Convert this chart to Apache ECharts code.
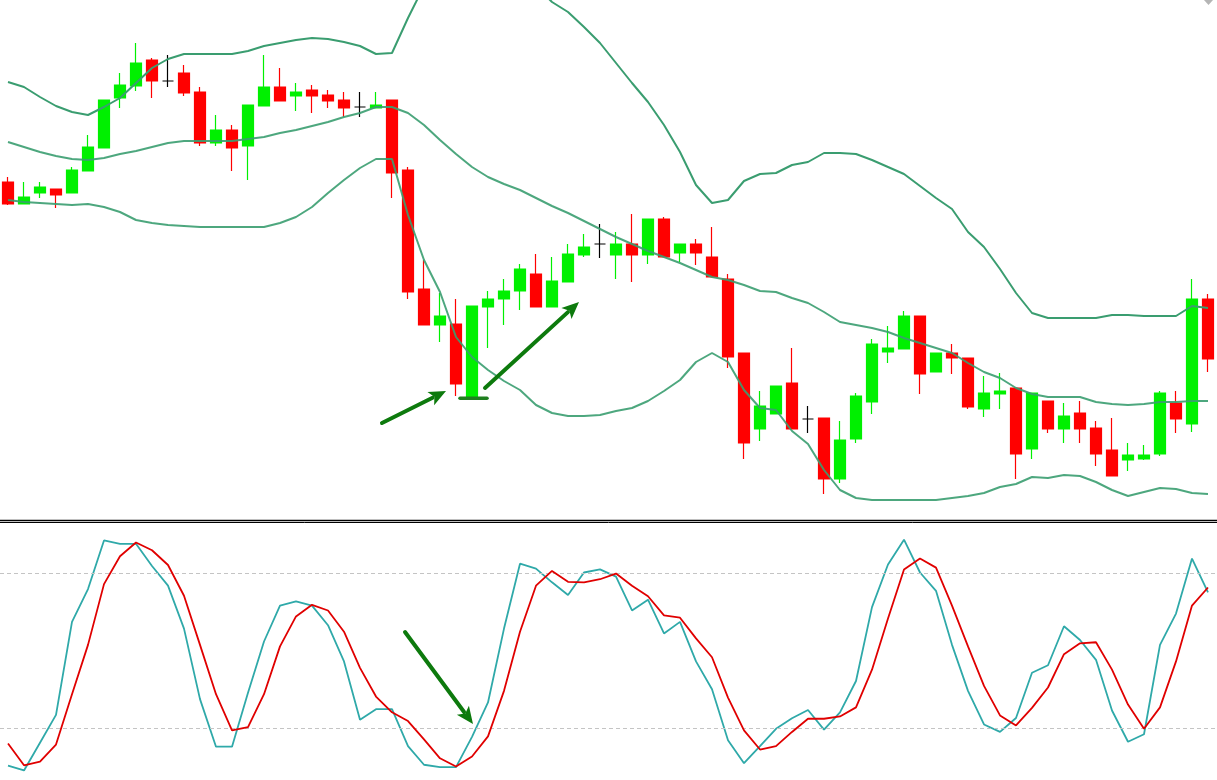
<!DOCTYPE html>
<html>
<head>
<meta charset="utf-8">
<script src="https://cdn.jsdelivr.net/npm/echarts@6/dist/echarts.min.js"></script>
<style>
  html, body { margin: 0; padding: 0; background: #ffffff; }
  #chart { width: 1217px; height: 780px; }
</style>
</head>
<body>
<div id="chart"></div>
<script>
// ---- price candles: [open, close, low, high] ----
const candles = [
  [1.2818, 1.2796, 1.2795, 1.2823],
  [1.2796, 1.2803, 1.2796, 1.2818],
  [1.2807, 1.2813, 1.2802, 1.2818],
  [1.2811, 1.2805, 1.2792, 1.2811],
  [1.2807, 1.2830, 1.2807, 1.2833],
  [1.2829, 1.2853, 1.2829, 1.2865],
  [1.2852, 1.2900, 1.2852, 1.2900],
  [1.2902, 1.2915, 1.2892, 1.2927],
  [1.2914, 1.2937, 1.2909, 1.2957],
  [1.2940, 1.2919, 1.2902, 1.2942],
  [1.2919, 1.2919, 1.2913, 1.2945],
  [1.2927, 1.2907, 1.2904, 1.2935],
  [1.2908, 1.2857, 1.2854, 1.2913],
  [1.2857, 1.2870, 1.2854, 1.2885],
  [1.2870, 1.2852, 1.2829, 1.2875],
  [1.2854, 1.2895, 1.2820, 1.2895],
  [1.2894, 1.2913, 1.2894, 1.2945],
  [1.2913, 1.2899, 1.2899, 1.2932],
  [1.2904, 1.2908, 1.2889, 1.2917],
  [1.2910, 1.2904, 1.2887, 1.2915],
  [1.2905, 1.2899, 1.2892, 1.2910],
  [1.2900, 1.2892, 1.2883, 1.2908],
  [1.2893, 1.2893, 1.2883, 1.2908],
  [1.2892, 1.2895, 1.2892, 1.2908],
  [1.2900, 1.2827, 1.2802, 1.2900],
  [1.2830, 1.2708, 1.2701, 1.2833],
  [1.2711, 1.2675, 1.2675, 1.2740],
  [1.2675, 1.2684, 1.2658, 1.2707],
  [1.2676, 1.2616, 1.2604, 1.2701],
  [1.2603, 1.2694, 1.2603, 1.2694],
  [1.2693, 1.2701, 1.2652, 1.2709],
  [1.2701, 1.2709, 1.2675, 1.2721],
  [1.2709, 1.2731, 1.2690, 1.2736],
  [1.2726, 1.2693, 1.2693, 1.2746],
  [1.2693, 1.2719, 1.2693, 1.2743],
  [1.2718, 1.2746, 1.2718, 1.2756],
  [1.2745, 1.2753, 1.2743, 1.2766],
  [1.2756, 1.2756, 1.2742, 1.2776],
  [1.2745, 1.2756, 1.2721, 1.2768],
  [1.2756, 1.2745, 1.2718, 1.2786],
  [1.2745, 1.2781, 1.2736, 1.2781],
  [1.2781, 1.2743, 1.2743, 1.2783],
  [1.2747, 1.2756, 1.2738, 1.2756],
  [1.2756, 1.2747, 1.2735, 1.2761],
  [1.2743, 1.2723, 1.2723, 1.2773],
  [1.2721, 1.2643, 1.2632, 1.2726],
  [1.2647, 1.2557, 1.2541, 1.2647],
  [1.2571, 1.2594, 1.2559, 1.2609],
  [1.2586, 1.2614, 1.2586, 1.2614],
  [1.2617, 1.2571, 1.2571, 1.2652],
  [1.2581, 1.2581, 1.2567, 1.2594],
  [1.2582, 1.2521, 1.2506, 1.2582],
  [1.2521, 1.2560, 1.2517, 1.2579],
  [1.2561, 1.2604, 1.2557, 1.2607],
  [1.2598, 1.2656, 1.2586, 1.2661],
  [1.2648, 1.2652, 1.2637, 1.2674],
  [1.2651, 1.2684, 1.2651, 1.2689],
  [1.2684, 1.2626, 1.2606, 1.2684],
  [1.2628, 1.2647, 1.2628, 1.2647],
  [1.2647, 1.2642, 1.2626, 1.2656],
  [1.2642, 1.2593, 1.2591, 1.2642],
  [1.2591, 1.2607, 1.2583, 1.2624],
  [1.2606, 1.2609, 1.2591, 1.2627],
  [1.2612, 1.2546, 1.2521, 1.2612],
  [1.2551, 1.2607, 1.2541, 1.2607],
  [1.2599, 1.2571, 1.2567, 1.2599],
  [1.2571, 1.2584, 1.2557, 1.2597],
  [1.2587, 1.2571, 1.2557, 1.2599],
  [1.2572, 1.2546, 1.2534, 1.2579],
  [1.2550, 1.2524, 1.2524, 1.2582],
  [1.2540, 1.2545, 1.2529, 1.2557],
  [1.2541, 1.2545, 1.2540, 1.2555],
  [1.2546, 1.2607, 1.2544, 1.2609],
  [1.2597, 1.2581, 1.2567, 1.2609],
  [1.2576, 1.2701, 1.2568, 1.2721],
  [1.2701, 1.2641, 1.2628, 1.2706]
];

// ---- Bollinger bands ----
const bbUpper = [
  1.2918, 1.2913, 1.2903, 1.2894, 1.2888, 1.2885, 1.2893, 1.2902, 1.2917, 1.2932,
  1.2941, 1.2946, 1.2946, 1.2946, 1.2946, 1.2949, 1.2954, 1.2957, 1.2960, 1.2962,
  1.2961, 1.2958, 1.2954, 1.2946, 1.2947, 1.2982, 1.3014, 1.3040, 1.3055, 1.3060,
  1.3057, 1.3047, 1.3032, 1.3014, 1.2998, 1.2988, 1.2973, 1.2957, 1.2937, 1.2917,
  1.2898, 1.2875, 1.2848, 1.2815, 1.2797, 1.2800, 1.2819, 1.2826, 1.2827, 1.2835,
  1.2838, 1.2847, 1.2847, 1.2846, 1.2840, 1.2833, 1.2826, 1.2814, 1.2802, 1.2791,
  1.2768, 1.2753, 1.2731, 1.2707, 1.2687, 1.2682, 1.2682, 1.2682, 1.2682, 1.2685,
  1.2685, 1.2684, 1.2684, 1.2684, 1.2694, 1.2692
];
const bbMiddle = [
  1.2858, 1.2853, 1.2848, 1.2844, 1.2841, 1.2840, 1.2842, 1.2846, 1.2849, 1.2853,
  1.2857, 1.2859, 1.2859, 1.2859, 1.2859, 1.2861, 1.2863, 1.2867, 1.2870, 1.2874,
  1.2878, 1.2883, 1.2887, 1.2893, 1.2893, 1.2887, 1.2875, 1.2860, 1.2846, 1.2833,
  1.2823, 1.2816, 1.2810, 1.2802, 1.2794, 1.2787, 1.2779, 1.2771, 1.2763, 1.2756,
  1.2749, 1.2743, 1.2737, 1.2730, 1.2723, 1.2720, 1.2715, 1.2709, 1.2708, 1.2702,
  1.2697, 1.2688, 1.2678, 1.2675, 1.2672, 1.2668, 1.2662, 1.2657, 1.2652, 1.2647,
  1.2637, 1.2628, 1.2622, 1.2612, 1.2606, 1.2603, 1.2603, 1.2603, 1.2598, 1.2596,
  1.2595, 1.2596, 1.2598, 1.2598, 1.2599, 1.2599
];
const bbLower = [
  1.2800, 1.2798, 1.2797, 1.2796, 1.2795, 1.2796, 1.2793, 1.2788, 1.2780, 1.2777,
  1.2775, 1.2774, 1.2773, 1.2773, 1.2773, 1.2773, 1.2773, 1.2777, 1.2783, 1.2793,
  1.2807, 1.2820, 1.2832, 1.2841, 1.2841, 1.2785, 1.2740, 1.2708, 1.2663, 1.2643,
  1.2630, 1.2619, 1.2610, 1.2595, 1.2587, 1.2584, 1.2584, 1.2585, 1.2589, 1.2592,
  1.2599, 1.2609, 1.2620, 1.2638, 1.2647, 1.2638, 1.2610, 1.2592, 1.2590, 1.2569,
  1.2556, 1.2530, 1.2510, 1.2502, 1.2500, 1.2500, 1.2500, 1.2500, 1.2500, 1.2502,
  1.2504, 1.2507, 1.2513, 1.2516, 1.2523, 1.2522, 1.2525, 1.2524, 1.2518, 1.2510,
  1.2504, 1.2508, 1.2512, 1.2511, 1.2507, 1.2506
];

// ---- Stochastic oscillator ----
const stochK = [
  5.6, 3.7, 14.4, 25.2, 61.2, 73.9, 92.7, 91.4, 91.4, 82.8,
  75.2, 58.6, 31.3, 12.9, 12.9, 33.8, 53.6, 67.5, 69.1, 67.5,
  59.9, 45.9, 23.3, 27.4, 27.4, 13.1, 5.9, 5.0, 5.0, 16.7,
  30.0, 58.6, 83.7, 81.8, 76.5, 71.6, 80.3, 81.5, 78.7, 65.6,
  69.8, 56.7, 61.2, 45.9, 35.1, 15.4, 6.5, 13.1, 19.8, 23.9,
  27.1, 19.5, 26.2, 38.3, 66.9, 83.4, 93.0, 80.3, 73.2, 52.3,
  34.5, 21.5, 18.6, 24.0, 41.5, 44.4, 59.5, 54.2, 46.5, 26.9,
  14.8, 17.7, 52.3, 64.4, 85.7, 72.6
];
const stochD = [
  14.1, 5.7, 7.1, 13.7, 33.2, 52.3, 75.8, 86.6, 91.9, 88.9,
  83.2, 71.3, 52.3, 33.2, 19.2, 20.5, 33.2, 51.7, 63.3, 67.8,
  65.6, 57.4, 43.4, 32.3, 26.2, 22.8, 15.7, 8.4, 5.2, 9.1,
  16.9, 34.5, 57.4, 75.2, 80.9, 76.7, 76.5, 77.7, 79.9, 75.2,
  71.1, 63.7, 62.8, 54.8, 47.5, 31.9, 19.2, 11.8, 13.1, 18.6,
  23.7, 23.7, 24.6, 28.1, 42.7, 62.5, 81.5, 85.7, 82.2, 67.5,
  51.7, 36.4, 25.0, 21.1, 27.9, 35.8, 48.7, 52.9, 53.3, 42.7,
  29.2, 19.8, 28.1, 45.9, 67.5, 74.5
];
const stochLevels = [20, 80];
const bars = candles.map((_, i) => String(i + 1));

const BAND = '#3a9d70';
const GREEN = '#00f000';
const RED = '#ff0000';
const ARROW = '#0d7a0d';

function arrow(x1, y1, x2, y2) {
  const dx = x2 - x1, dy = y2 - y1;
  const len = Math.sqrt(dx * dx + dy * dy);
  const ux = dx / len, uy = dy / len;
  const hl = 17, hw = 7.5;
  const bx = x2 - ux * hl, by = y2 - uy * hl;
  return [
    { type: 'line', z: 100,
      shape: { x1: x1, y1: y1, x2: bx + ux * 2, y2: by + uy * 2 },
      style: { stroke: ARROW, lineWidth: 4, lineCap: 'round' } },
    { type: 'polygon', z: 100,
      shape: { points: [[x2, y2], [bx - uy * hw, by + ux * hw], [bx + ux * 4, by + uy * 4], [bx + uy * hw, by - ux * hw]] },
      style: { fill: ARROW } }
  ];
}

const chart = echarts.init(document.getElementById('chart'), null, { renderer: 'canvas' });
chart.setOption({
  animation: false,
  backgroundColor: '#ffffff',
  grid: [
    { left: 0, right: 1, top: 0, height: 520 },
    { left: 0, right: 1, top: 521.6, height: 261.8 }
  ],
  xAxis: [
    { type: 'category', data: bars, gridIndex: 0, boundaryGap: true, show: false },
    { type: 'category', data: bars, gridIndex: 1, boundaryGap: true, show: false }
  ],
  yAxis: [
    { type: 'value', gridIndex: 0, min: 1.2480, max: 1.3000, show: false, splitLine: { show: false } },
    { type: 'value', gridIndex: 1, min: 0, max: 100, show: false, splitLine: { show: false } }
  ],
  series: [
    {
      type: 'candlestick', name: 'Price', xAxisIndex: 0, yAxisIndex: 0,
      data: candles, barWidth: 11,
      itemStyle: {
        color: GREEN, color0: RED,
        borderColor: GREEN, borderColor0: RED,
        borderColorDoji: '#000000', borderWidth: 1.2
      }
    },
    { type: 'line', name: 'BB upper', data: bbUpper, xAxisIndex: 0, yAxisIndex: 0,
      symbol: 'none', clip: true, lineStyle: { color: BAND, width: 2 }, z: 5 },
    { type: 'line', name: 'BB middle', data: bbMiddle, xAxisIndex: 0, yAxisIndex: 0,
      symbol: 'none', clip: true, lineStyle: { color: BAND, width: 2, opacity: 0.9 }, z: 5 },
    { type: 'line', name: 'BB lower', data: bbLower, xAxisIndex: 0, yAxisIndex: 0,
      symbol: 'none', clip: true, lineStyle: { color: BAND, width: 2, opacity: 0.9 }, z: 5 },
    { type: 'line', name: '%K', data: stochK, xAxisIndex: 1, yAxisIndex: 1,
      symbol: 'none', lineStyle: { color: '#2fa9a9', width: 1.8 }, z: 4,
      markLine: {
        silent: true, symbol: ['none', 'none'], label: { show: false },
        lineStyle: { color: '#c4c4c4', type: [4, 3], width: 1 },
        data: stochLevels.map(v => ({ yAxis: v }))
      }
    },
    { type: 'line', name: '%D', data: stochD, xAxisIndex: 1, yAxisIndex: 1,
      symbol: 'none', lineStyle: { color: '#e00000', width: 1.8 }, z: 5 }
  ],
  graphic: [
    { type: 'line', z: 100, shape: { x1: 0, y1: 520.5, x2: 1217, y2: 520.5 }, style: { stroke: '#000', lineWidth: 1.5 } },
    { type: 'line', z: 100, shape: { x1: 0, y1: 522.5, x2: 1217, y2: 522.5 }, style: { stroke: '#000', lineWidth: 1 } },
    { type: 'polygon', z: 100, shape: { points: [[1204, 0], [1213, 0], [1208.5, 5]] }, style: { fill: '#b5b5b5' } },
    { type: 'line', z: 100, shape: { x1: 460, y1: 398.3, x2: 487, y2: 398.3 }, style: { stroke: '#1f7f1f', lineWidth: 3.5, lineCap: 'round' } }
  ].concat(arrow(382, 423, 446, 391))
   .concat(arrow(485, 388, 579, 302))
   .concat(arrow(405, 632, 473, 724))
});
</script>
</body>
</html>
